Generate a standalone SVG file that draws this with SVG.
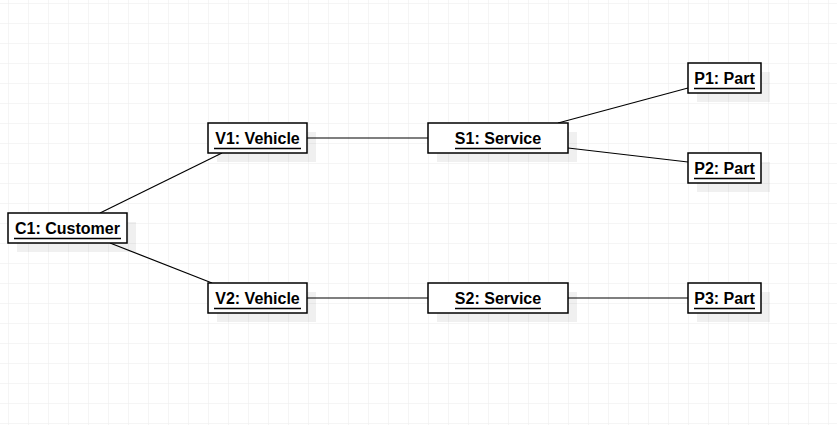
<svg xmlns="http://www.w3.org/2000/svg" width="837" height="425" viewBox="0 0 837 425">
<defs>
<pattern id="grid" x="8" y="3" width="20" height="20" patternUnits="userSpaceOnUse">
<path d="M0 0H20M0 0V20" fill="none" stroke="#ebebeb" stroke-width="1"/>
</pattern>
</defs>
<style>
.box{fill:#ffffff;stroke:#000000;stroke-width:1.5}
.shadow{fill:#000000;fill-opacity:0.06}
.lbl{font-family:"Liberation Sans",Arial,sans-serif;font-size:16px;font-weight:bold;fill:#000000;text-anchor:middle}
.ul{stroke:#000000;stroke-width:1.3}
.edge{stroke:#000000;stroke-width:1.2;fill:none}
</style>
<rect width="837" height="425" fill="#ffffff"/>
<rect width="837" height="425" fill="url(#grid)"/>
<g id="connectors">
<line class="edge" x1="100" y1="213" x2="222" y2="153"/>
<line class="edge" x1="110" y1="243" x2="212" y2="283"/>
<line class="edge" x1="307" y1="138" x2="428" y2="138"/>
<line class="edge" x1="558" y1="123" x2="688" y2="88"/>
<line class="edge" x1="568" y1="148" x2="688" y2="162"/>
<line class="edge" x1="307" y1="298" x2="428" y2="298"/>
<line class="edge" x1="568" y1="298" x2="688" y2="298"/>
</g>
<g id="C1">
<rect class="shadow" x="17" y="222" width="119" height="30"/>
<rect class="box" x="8" y="213" width="119" height="30"/>
<text class="lbl" x="67.5" y="234">C1: Customer</text>
<line class="ul" x1="14" y1="238.5" x2="121" y2="238.5"/>
</g>
<g id="V1">
<rect class="shadow" x="217" y="132" width="99" height="30"/>
<rect class="box" x="208" y="123" width="99" height="30"/>
<text class="lbl" x="257.5" y="144">V1: Vehicle</text>
<line class="ul" x1="214" y1="148.5" x2="301" y2="148.5"/>
</g>
<g id="V2">
<rect class="shadow" x="217" y="292" width="99" height="30"/>
<rect class="box" x="208" y="283" width="99" height="30"/>
<text class="lbl" x="257.5" y="304">V2: Vehicle</text>
<line class="ul" x1="214" y1="308.5" x2="301" y2="308.5"/>
</g>
<g id="S1">
<rect class="shadow" x="437" y="132" width="140" height="30"/>
<rect class="box" x="428" y="123" width="140" height="30"/>
<text class="lbl" x="498" y="144">S1: Service</text>
<line class="ul" x1="455" y1="148.5" x2="541" y2="148.5"/>
</g>
<g id="S2">
<rect class="shadow" x="437" y="292" width="140" height="30"/>
<rect class="box" x="428" y="283" width="140" height="30"/>
<text class="lbl" x="498" y="304">S2: Service</text>
<line class="ul" x1="455" y1="308.5" x2="541" y2="308.5"/>
</g>
<g id="P1">
<rect class="shadow" x="697" y="72" width="73" height="30"/>
<rect class="box" x="688" y="63" width="73" height="30"/>
<text class="lbl" x="724.5" y="84">P1: Part</text>
<line class="ul" x1="694" y1="88.5" x2="755" y2="88.5"/>
</g>
<g id="P2">
<rect class="shadow" x="697" y="162" width="73" height="30"/>
<rect class="box" x="688" y="153" width="73" height="30"/>
<text class="lbl" x="724.5" y="174">P2: Part</text>
<line class="ul" x1="694" y1="178.5" x2="755" y2="178.5"/>
</g>
<g id="P3">
<rect class="shadow" x="697" y="292" width="73" height="30"/>
<rect class="box" x="688" y="283" width="73" height="30"/>
<text class="lbl" x="724.5" y="304">P3: Part</text>
<line class="ul" x1="694" y1="308.5" x2="755" y2="308.5"/>
</g>
</svg>
